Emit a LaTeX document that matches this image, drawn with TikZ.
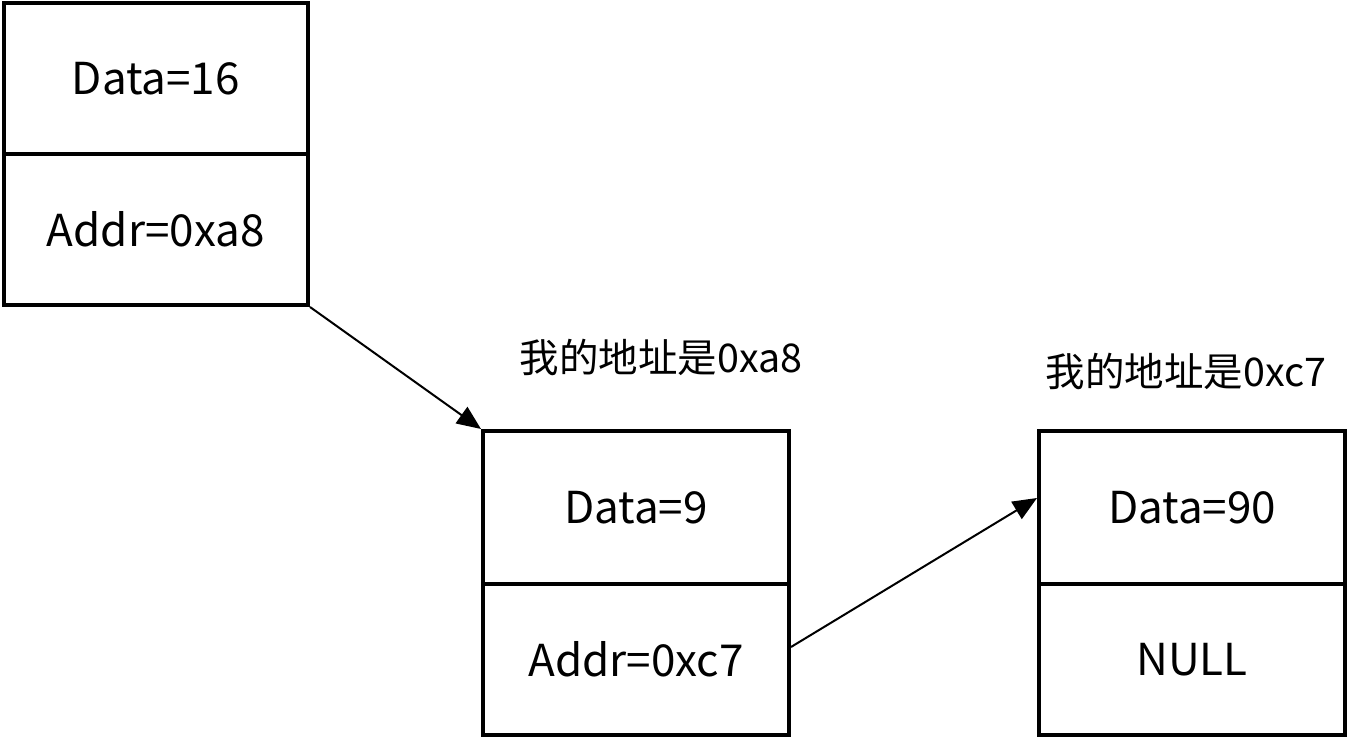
\documentclass[tikz,border=0pt]{standalone}
\usepackage{fontspec}
\setmainfont{Noto Sans CJK SC}
\usetikzlibrary{arrows.meta}
\tikzset{
  cell/.style={draw=black, line width=4pt, rectangle, inner sep=0pt, outer sep=0pt,
    minimum width=306pt, font=\fontsize{44}{50}\selectfont},
  lbl/.style={inner sep=0pt, font=\fontsize{39.5}{46}\selectfont},
  link/.style={line width=2pt, -{Triangle[length=24pt,width=20pt]}, shorten >=0pt}
}
\begin{document}
\begin{tikzpicture}[x=1pt,y=1pt]
\useasboundingbox[fill=white] (0,0) rectangle (1370,738);
% list 1
\node[cell, minimum width=304.5pt, minimum height=150.5pt] (d1) at (155.75,659.25) {Data=16};
\node[cell, minimum width=304.5pt, minimum height=151pt] (a1) at (155.75,508.5) {Addr=0xa8};
% list 2
\node[cell, minimum height=153pt] (d2) at (636,230.5) {Data=9};
\node[cell, minimum height=151pt] (a2) at (636,78.5) {Addr=0xc7};
% list 3
\node[cell, minimum height=153pt] (d3) at (1192,230.5) {Data=90};
\node[cell, minimum height=151pt] (a3) at (1192,78.5) {NULL};
% labels
\node[lbl] (l1) at (661,381) {我的地址是0xa8};
\node[lbl] (l2) at (1186,367) {我的地址是0xc7};
% links
\draw[link] ([shift={(2pt,-2pt)}]a1.south east) -- ([shift={(-2pt,2pt)}]d2.north west);
\draw[link] ([shift={(2pt,12.5pt)}]a2.east) -- ([shift={(-2pt,9.5pt)}]d3.west);
\end{tikzpicture}
\end{document}
